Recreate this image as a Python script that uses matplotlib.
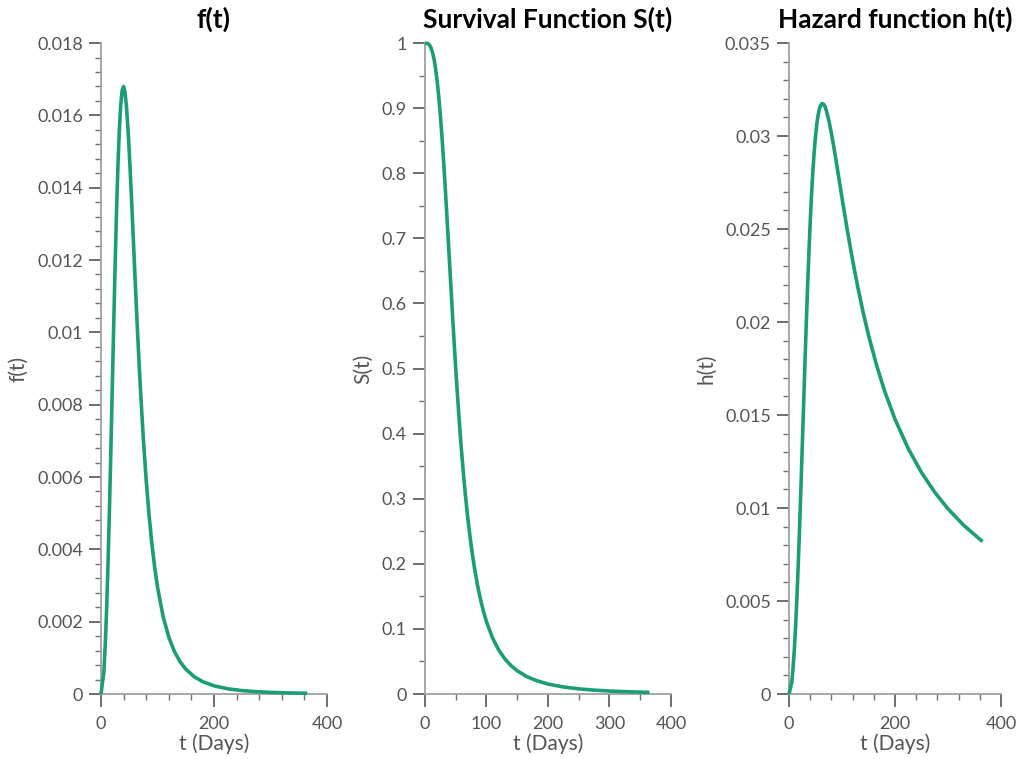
#!/usr/bin/env python3
"""
Funciones de supervivencia: densidad f(t), supervivencia S(t) y riesgo h(t)
"""

import matplotlib
matplotlib.use('Agg')
import matplotlib.pyplot as plt
from matplotlib.ticker import MultipleLocator

# Datos (t en dias)
t_days = [0, 5, 7.5, 10, 12.5, 15, 17.5, 20, 22.5, 25, 27.5, 30, 32.5, 35, 37.5, 40,
          42.5, 45, 47.5, 50, 52.5, 55, 57.5, 60, 62.5, 65, 67.5, 70, 75, 80, 85, 90,
          95, 100, 110, 120, 130, 140, 150, 165, 180, 200, 225, 250, 275, 300, 330, 365]

f_values = [0.0, 0.000599, 0.001341, 0.002362, 0.003636, 0.005120, 0.006758, 0.008480,
            0.010205, 0.011852, 0.013341, 0.014608, 0.015603, 0.016300, 0.016694,
            0.016797, 0.016639, 0.016257, 0.015697, 0.015000, 0.014210, 0.013362,
            0.012487, 0.011610, 0.010750, 0.009921, 0.009132, 0.008389, 0.007053,
            0.005915, 0.004959, 0.004165, 0.003507, 0.002963, 0.002140, 0.001573,
            0.001175, 0.000893, 0.000689, 0.000479, 0.000342, 0.000227, 0.000143,
            0.0000945, 0.0000648, 0.0000459, 0.0000314, 0.0000210]

s_values = [1.0, 0.99900, 0.99664, 0.99206, 0.98462, 0.97371, 0.95889, 0.93985,
            0.91649, 0.88889, 0.85736, 0.82237, 0.78454, 0.74460, 0.70330, 0.66138,
            0.61954, 0.57837, 0.53840, 0.50000, 0.46347, 0.42900, 0.39669, 0.36657,
            0.33862, 0.31279, 0.28899, 0.26709, 0.22857, 0.19623, 0.16912, 0.14637,
            0.12724, 0.11111, 0.085852, 0.067458, 0.053832, 0.043569, 0.035714,
            0.027073, 0.020984, 0.015385, 0.010855, 0.0079365, 0.0059746, 0.0046083,
            0.0034662, 0.0025640]

h_values = [0.0, 0.000599, 0.001346, 0.002381, 0.003692, 0.005258, 0.007048, 0.009023,
            0.011135, 0.013333, 0.015561, 0.017763, 0.019888, 0.021891, 0.023736,
            0.025397, 0.026857, 0.028109, 0.029154, 0.030000, 0.030659, 0.031146,
            0.031477, 0.031672, 0.031746, 0.031717, 0.031600, 0.031410, 0.030857,
            0.030141, 0.029325, 0.028454, 0.027561, 0.026667, 0.024931, 0.023314,
            0.021835, 0.020495, 0.019286, 0.017690, 0.016317, 0.014769, 0.013189,
            0.011905, 0.010844, 0.0099539, 0.0090594, 0.0081981]

LINE_COLOR = '#1b9e77'
TEXT_GRAY = '#555555'

plt.rcParams['font.family'] = ['Lato', 'DejaVu Sans']

fig = plt.figure(figsize=(10.16, 7.59), dpi=100)

# posiciones de los ejes (fraccion de la figura)
panels = [
    # (rect, y values, ymax, ymajor, yminor, xmajor, xminor, titulo, ylabel)
    ([0.0994, 0.0856, 0.2224, 0.8577], f_values, 0.018, 0.002, 0.0004, 200, 40, 'f(t)', 'f(t)'),
    ([0.4183, 0.0856, 0.2421, 0.8577], s_values, 1.0, 0.1, 0.05, 100, 50, 'Survival Function S(t)', 'S(t)'),
    ([0.7766, 0.0856, 0.2087, 0.8577], h_values, 0.035, 0.005, 0.001, 200, 40, 'Hazard function h(t)', 'h(t)'),
]

for rect, yvals, ymax, ymaj, ymin_step, xmaj, xmin_step, title, ylabel in panels:
    ax = fig.add_axes(rect)
    ax.plot(t_days, yvals, color=LINE_COLOR, linewidth=2.6, clip_on=False,
            solid_capstyle='butt', solid_joinstyle='round', zorder=3)

    ax.set_xlim(0, 400)
    ax.set_ylim(0, ymax)
    ax.xaxis.set_major_locator(MultipleLocator(xmaj))
    ax.xaxis.set_minor_locator(MultipleLocator(xmin_step))
    ax.yaxis.set_major_locator(MultipleLocator(ymaj))
    ax.yaxis.set_minor_locator(MultipleLocator(ymin_step))
    ax.yaxis.set_major_formatter(plt.FuncFormatter(lambda v, p: f'{v:g}'))
    ax.xaxis.set_major_formatter(plt.FuncFormatter(lambda v, p: f'{v:g}'))

    for side in ['top', 'right']:
        ax.spines[side].set_visible(False)
    for side in ['left', 'bottom']:
        ax.spines[side].set_color('#a0a0a0')
        ax.spines[side].set_linewidth(1.3)

    ax.tick_params(which='major', direction='out', length=9, width=1.2,
                   color='#555555', labelsize=13, labelcolor=TEXT_GRAY)
    ax.tick_params(axis='y', which='major', pad=4)
    ax.tick_params(axis='x', which='major', pad=7)
    ax.tick_params(which='minor', direction='out', length=4.5, width=1.0, color='#707070')

    ax.set_title(title, fontsize=19, fontweight='bold', color='black', pad=11)
    ax.set_xlabel('t (Days)', fontsize=15, color=TEXT_GRAY, labelpad=1)
    ax.set_ylabel(ylabel, fontsize=15, color=TEXT_GRAY, labelpad=6)

fig.savefig('out.png', dpi=100)
plt.close(fig)
